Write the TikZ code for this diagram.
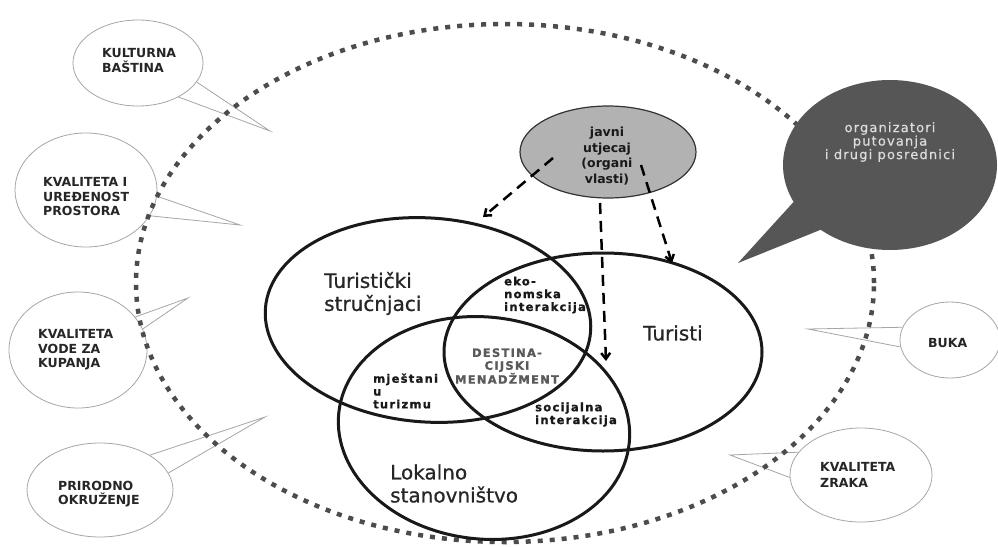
\documentclass[tikz,border=0pt]{standalone}
\usepackage{fontspec}
\setmainfont{DejaVu Sans}
\newfontfamily\spaced[LetterSpace=11,BoldFeatures={FakeBold=1.2}]{DejaVu Sans}
\newfontfamily\orgfont[LetterSpace=9,FakeBold=0.6]{DejaVu Sans}
\newfontfamily\bigfont[FakeBold=0.7]{DejaVu Sans}
\usetikzlibrary{shapes.geometric,arrows.meta}
\definecolor{dotgray}{HTML}{4C4C4C}
\definecolor{darkbub}{HTML}{565656}
\definecolor{javgray}{HTML}{B2B2B2}
\definecolor{orgtxt}{HTML}{DCDCDC}
\definecolor{destgray}{HTML}{5A5A5A}
\begin{document}
\begin{tikzpicture}[x=1pt,y=-1pt,
  bub/.style={ellipse, draw=black!35, line width=0.8pt, fill=white, inner sep=0pt},
  tail/.style={draw=black!35, line width=0.8pt},
  bubtxt/.style={font=\bfseries\fontsize{12.5}{14.5}\selectfont, align=left, anchor=west, text=black!85, inner sep=0pt},
  venn/.style={ellipse, draw=black!90, line width=3pt, inner sep=0pt},
  bigtxt/.style={font=\bigfont\fontsize{20}{23}\selectfont, align=left, anchor=west, text=black!85, inner sep=0pt},
  smalltxt/.style={font=\spaced\bfseries\fontsize{11.5}{12.8}\selectfont, align=left, anchor=west, text=black!90, inner sep=0pt},
  govarrow/.style={line width=2.5pt, dash pattern=on 11pt off 7pt, -{Straight Barb[length=6pt,width=9pt]}},
]
\useasboundingbox (0,0) rectangle (998,546);
\fill[white] (0,0) rectangle (998,546);

% light speech bubbles
\node[bub, minimum width=130pt, minimum height=86pt] (kb) at (138,63) {};
\coordinate (kbtip) at (270,131);
\draw[tail] (kb.-18) -- (kbtip) -- (kb.-40);

\node[bub, minimum width=142pt, minimum height=114pt] (up) at (86,190) {};
\coordinate (uptip) at (240,225);
\draw[tail] (up.-5) -- (uptip) -- (up.-22);

\node[bub, minimum width=138pt, minimum height=116pt] (vo) at (78,350) {};
\coordinate (votip) at (188,298);
\draw[tail] (vo.30) -- (votip) -- (vo.18);

\node[bub, minimum width=146pt, minimum height=94pt] (pr) at (100,490) {};
\coordinate (prtip) at (265,417);
\draw[tail] (pr.35) -- (prtip) -- (pr.14);

\node[bub, minimum width=100pt, minimum height=76pt] (bu) at (950,340) {};
\coordinate (butip) at (808,329);
\draw[tail] (bu.165) -- (butip) -- (bu.188);

\node[bub, minimum width=142pt, minimum height=94pt] (zr) at (861,475) {};
\coordinate (zrtip) at (730,455);
\draw[tail] (zr.160) -- (zrtip) -- (zr.182);

% outer dotted ellipse
\node[ellipse, draw=dotgray, line width=4.5pt, dash pattern=on 5pt off 7pt, minimum width=738pt, minimum height=518pt, inner sep=0pt] (outer) at (505,283) {};

% dark speech bubble
\node[ellipse, fill=darkbub, minimum width=214pt, minimum height=170pt, inner sep=0pt] (org) at (890,165) {};
\coordinate (orgtip) at (738,263);
\fill[darkbub] (org.center) -- (org.201) -- (orgtip) -- (org.223) -- cycle;

% public influence
\node[ellipse, draw=black!80, line width=1.2pt, fill=javgray, minimum width=176pt, minimum height=92pt, inner sep=0pt] (jav) at (608,152) {};

% Venn ellipses
\node[venn, minimum width=326pt, minimum height=204pt, rotate=-4] (ts) at (428,320) {};
\node[venn, minimum width=318pt, minimum height=198pt] (tu) at (603,352) {};
\node[venn, minimum width=292pt, minimum height=222pt, rotate=-6] (lo) at (484,428) {};

% dashed arrows
\coordinate (la1) at (553,158); \coordinate (la2) at (483,217);
\coordinate (ma1) at (600,203); \coordinate (ma2) at (606,361);
\coordinate (ra1) at (641,165); \coordinate (ra2) at (672,263);
\draw[govarrow] (la1) -- (la2);
\draw[govarrow] (ma1) -- (ma2);
\draw[govarrow] (ra1) -- (ra2);

% texts
\node[bubtxt] (kbt) at (102,60.5) {KULTURNA\\BAŠTINA};
\node[bubtxt] (upt) at (43,197) {KVALITETA I\\UREĐENOST\\PROSTORA};
\node[bubtxt] (vot) at (38,350) {KVALITETA\\VODE ZA\\KUPANJA};
\node[bubtxt] (prt) at (58,494) {PRIRODNO\\OKRUŽENJE};
\node[bubtxt] (but) at (928,343) {BUKA};
\node[bubtxt, font=\bfseries\fontsize{12.5}{16}\selectfont] (zrt) at (820,475) {KVALITETA\\ZRAKA};

\node[font=\orgfont\fontsize{13}{13.5}\selectfont, text=orgtxt, align=center, inner sep=0pt] (orgt) at (890,142) {organizatori\\putovanja\\i drugi posrednici};
\node[font=\bfseries\fontsize{12.5}{15.5}\selectfont, text=black!90, align=center, inner sep=0pt] (javt) at (607,156) {javni\\utjecaj\\(organi\\vlasti)};

\node[bigtxt] (tst) at (324,293.5) {Turistički\\stručnjaci};
\node[bigtxt] (tut) at (643,333) {Turisti};
\node[bigtxt] (lot) at (390,483.5) {Lokalno\\stanovništvo};

\node[smalltxt] (eko) at (504,295) {eko-\\nomska\\interakcija};
\node[smalltxt, anchor=center, align=center, text=destgray] (dest) at (507,366) {DESTINA-\\CIJSKI\\MENADŽMENT};
\node[smalltxt] (mje) at (373,391) {mještani\\u\\turizmu};
\node[smalltxt] (soc) at (535,414.5) {socijalna\\interakcija};
\end{tikzpicture}
\end{document}
